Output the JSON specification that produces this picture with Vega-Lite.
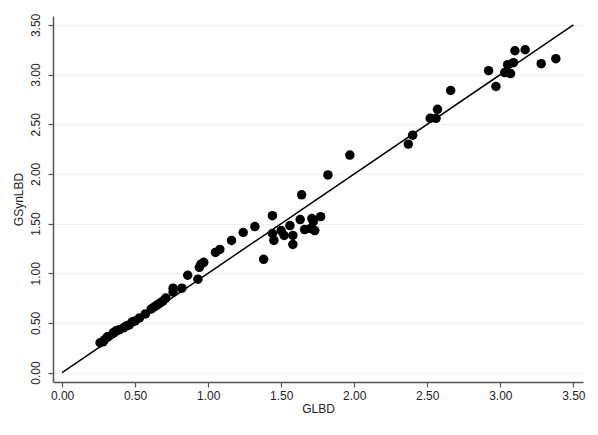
{
  "$schema": "https://vega.github.io/schema/vega-lite/v6.json",
  "autosize": {"type": "none"},
  "padding": {"left": 53, "top": 16, "right": 15, "bottom": 53},
  "width": 530,
  "height": 366,
  "background": "white",
  "config": {
    "view": {"stroke": null},
    "font": "Liberation Sans",
    "axis": {
      "labelFont": "Liberation Sans",
      "titleFont": "Liberation Sans",
      "labelFontSize": 12,
      "titleFontSize": 12,
      "titleFontWeight": "normal",
      "labelColor": "#222",
      "titleColor": "#222",
      "domainColor": "#555",
      "domainWidth": 1.5,
      "tickColor": "#555",
      "tickWidth": 1.2,
      "tickSize": 5,
      "gridColor": "#e8f1f3",
      "gridWidth": 1.2
    }
  },
  "datasets": {
    "pts": [
      {"GLBD": 0.26, "GSynLBD": 0.30},
      {"GLBD": 0.28, "GSynLBD": 0.31},
      {"GLBD": 0.29, "GSynLBD": 0.33},
      {"GLBD": 0.31, "GSynLBD": 0.36},
      {"GLBD": 0.35, "GSynLBD": 0.40},
      {"GLBD": 0.37, "GSynLBD": 0.42},
      {"GLBD": 0.39, "GSynLBD": 0.43},
      {"GLBD": 0.42, "GSynLBD": 0.45},
      {"GLBD": 0.44, "GSynLBD": 0.47},
      {"GLBD": 0.46, "GSynLBD": 0.48},
      {"GLBD": 0.48, "GSynLBD": 0.51},
      {"GLBD": 0.50, "GSynLBD": 0.52},
      {"GLBD": 0.53, "GSynLBD": 0.55},
      {"GLBD": 0.57, "GSynLBD": 0.59},
      {"GLBD": 0.61, "GSynLBD": 0.64},
      {"GLBD": 0.63, "GSynLBD": 0.66},
      {"GLBD": 0.65, "GSynLBD": 0.68},
      {"GLBD": 0.67, "GSynLBD": 0.70},
      {"GLBD": 0.69, "GSynLBD": 0.72},
      {"GLBD": 0.71, "GSynLBD": 0.75},
      {"GLBD": 0.76, "GSynLBD": 0.81},
      {"GLBD": 0.76, "GSynLBD": 0.85},
      {"GLBD": 0.82, "GSynLBD": 0.85},
      {"GLBD": 0.86, "GSynLBD": 0.98},
      {"GLBD": 0.93, "GSynLBD": 0.94},
      {"GLBD": 0.94, "GSynLBD": 1.06},
      {"GLBD": 0.95, "GSynLBD": 1.09},
      {"GLBD": 0.97, "GSynLBD": 1.11},
      {"GLBD": 1.05, "GSynLBD": 1.21},
      {"GLBD": 1.08, "GSynLBD": 1.24},
      {"GLBD": 1.16, "GSynLBD": 1.33},
      {"GLBD": 1.24, "GSynLBD": 1.41},
      {"GLBD": 1.32, "GSynLBD": 1.47},
      {"GLBD": 1.38, "GSynLBD": 1.14},
      {"GLBD": 1.44, "GSynLBD": 1.58},
      {"GLBD": 1.44, "GSynLBD": 1.40},
      {"GLBD": 1.45, "GSynLBD": 1.33},
      {"GLBD": 1.50, "GSynLBD": 1.43},
      {"GLBD": 1.52, "GSynLBD": 1.38},
      {"GLBD": 1.56, "GSynLBD": 1.48},
      {"GLBD": 1.58, "GSynLBD": 1.38},
      {"GLBD": 1.58, "GSynLBD": 1.29},
      {"GLBD": 1.63, "GSynLBD": 1.54},
      {"GLBD": 1.66, "GSynLBD": 1.44},
      {"GLBD": 1.70, "GSynLBD": 1.45},
      {"GLBD": 1.72, "GSynLBD": 1.52},
      {"GLBD": 1.73, "GSynLBD": 1.43},
      {"GLBD": 1.71, "GSynLBD": 1.55},
      {"GLBD": 1.77, "GSynLBD": 1.57},
      {"GLBD": 1.64, "GSynLBD": 1.79},
      {"GLBD": 1.82, "GSynLBD": 1.99},
      {"GLBD": 1.97, "GSynLBD": 2.19},
      {"GLBD": 2.37, "GSynLBD": 2.30},
      {"GLBD": 2.40, "GSynLBD": 2.39},
      {"GLBD": 2.52, "GSynLBD": 2.56},
      {"GLBD": 2.56, "GSynLBD": 2.56},
      {"GLBD": 2.57, "GSynLBD": 2.65},
      {"GLBD": 2.66, "GSynLBD": 2.84},
      {"GLBD": 2.92, "GSynLBD": 3.04},
      {"GLBD": 2.97, "GSynLBD": 2.88},
      {"GLBD": 3.03, "GSynLBD": 3.02},
      {"GLBD": 3.05, "GSynLBD": 3.10},
      {"GLBD": 3.07, "GSynLBD": 3.01},
      {"GLBD": 3.09, "GSynLBD": 3.12},
      {"GLBD": 3.10, "GSynLBD": 3.24},
      {"GLBD": 3.17, "GSynLBD": 3.25},
      {"GLBD": 3.28, "GSynLBD": 3.11},
      {"GLBD": 3.38, "GSynLBD": 3.16}
    ],
    "line": [
      {"GLBD": 0, "GSynLBD": 0},
      {"GLBD": 3.5, "GSynLBD": 3.5}
    ]
  },
  "layer": [
    {
      "data": {"name": "pts"},
      "mark": {"type": "point", "filled": true, "shape": "circle", "size": 90, "color": "black", "opacity": 1},
      "encoding": {
        "x": {
          "field": "GLBD", "type": "quantitative",
          "scale": {"domain": [-0.062, 3.566], "nice": false, "zero": false},
          "axis": {"values": [0, 0.5, 1, 1.5, 2, 2.5, 3, 3.5], "format": ".2f", "grid": false, "title": "GLBD", "labelPadding": 3, "titlePadding": 2}
        },
        "y": {
          "field": "GSynLBD", "type": "quantitative",
          "scale": {"domain": [-0.095, 3.59], "nice": false, "zero": false},
          "axis": {"values": [0, 0.5, 1, 1.5, 2, 2.5, 3, 3.5], "format": ".2f", "grid": true, "title": "GSynLBD", "labelAngle": -90, "labelAlign": "center", "labelBaseline": "bottom", "labelPadding": 6, "titlePadding": 4}
        }
      }
    },
    {
      "data": {"name": "line"},
      "mark": {"type": "line", "color": "black", "strokeWidth": 1.5},
      "encoding": {
        "x": {"field": "GLBD", "type": "quantitative"},
        "y": {"field": "GSynLBD", "type": "quantitative"}
      }
    }
  ]
}
